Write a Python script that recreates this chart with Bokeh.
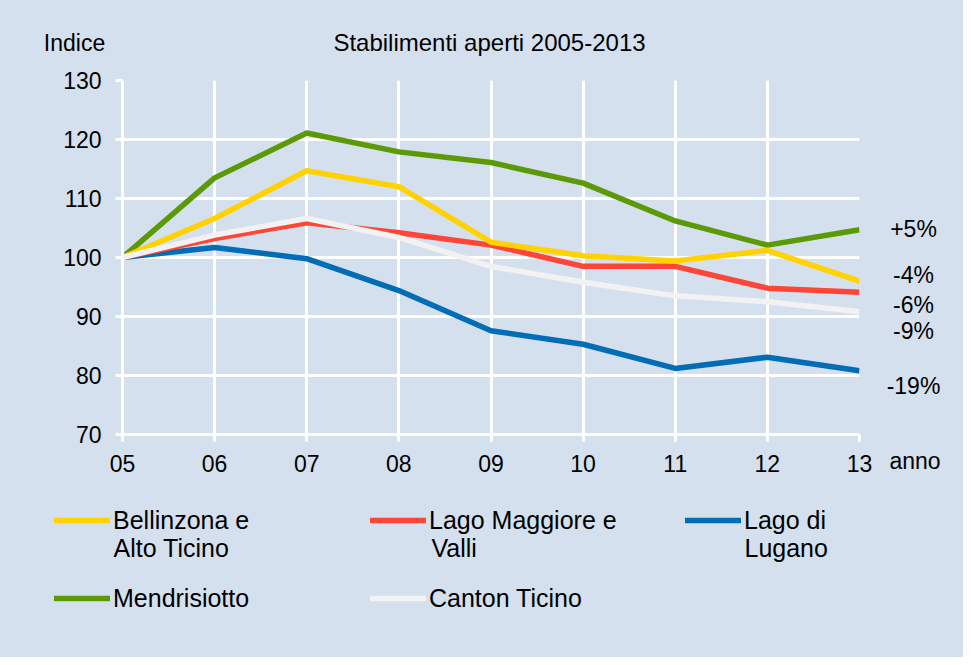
from bokeh.plotting import figure
from bokeh.models import Legend, LegendItem, Label, FixedTicker, Range1d
from bokeh.layouts import column, row
from bokeh.embed import file_html
from bokeh.resources import INLINE

years = [2005, 2006, 2007, 2008, 2009, 2010, 2011, 2012, 2013]
year_labels = ["05", "06", "07", "08", "09", "10", "11", "12", "13"]
y_ticks = [70, 80, 90, 100, 110, 120, 130]

bellinzona = [100, 106.6, 114.7, 112.0, 102.6, 100.3, 99.4, 101.2, 96.0]
lago_maggiore = [100, 103.2, 105.9, 104.2, 102.1, 98.5, 98.5, 94.8, 94.1]
lugano = [100, 101.7, 99.8, 94.4, 87.6, 85.3, 81.2, 83.1, 80.8]
mendrisiotto = [100, 113.5, 121.1, 117.9, 116.1, 112.6, 106.2, 102.1, 104.7]
canton = [100, 103.8, 106.6, 103.4, 98.5, 95.8, 93.5, 92.5, 90.8]

pct_labels = ["+5%", "-4%", "-6%", "-9%", "-19%"]
pct_label_y = [104.8, 97.1, 91.9, 87.6, 78.2]

BG = "#D5E0EE"
FONT = "Liberation Sans"
W_TOTAL = 963
T_H = 66
M_H = 428
L_H = 657 - T_H - M_H
M_LEFT, M_TOP, M_BOTTOM, M_RIGHT = 122, 14, 60, 16
M_W = 875
R_W = W_TOTAL - M_W
FRAME_H = M_H - M_TOP - M_BOTTOM
Y0, Y1 = 70, 130

COLORS = {
    "yellow": "#FFD200", "red": "#FF4536", "blue": "#006DB6",
    "green": "#5B9A06", "white": "#F2F2F2",
}
SERIES = {
    "yellow": bellinzona, "red": lago_maggiore, "blue": lugano,
    "green": mendrisiotto, "white": canton,
}


def blank(w, h, yr=(0, 1)):
    f = figure(width=w, height=h, output_backend="svg", toolbar_location=None,
               x_axis_type=None, y_axis_type=None, x_range=Range1d(0, 1),
               y_range=Range1d(*yr), background_fill_color=BG, border_fill_color=BG,
               min_border=0)
    f.outline_line_color = None
    f.grid.visible = False
    f.frame_align = False
    f.styles = {"background-color": BG}
    return f


# ---- top strip: title and y label
top = blank(W_TOTAL, T_H)
top.add_layout(Label(x=74, y=24, x_units="screen", y_units="screen", text="Indice",
                     text_align="center", text_baseline="middle", text_font=FONT,
                     text_font_size="23px", text_color="black"))
top.add_layout(Label(x=489, y=24, x_units="screen", y_units="screen",
                     text="Stabilimenti aperti 2005-2013", text_align="center",
                     text_baseline="middle", text_font=FONT, text_font_size="24px",
                     text_color="black"))

# ---- main chart
p = figure(width=M_W, height=M_H, output_backend="svg", toolbar_location=None,
           x_range=Range1d(2005, 2013), y_range=Range1d(Y0, Y1),
           background_fill_color=BG, border_fill_color=BG,
           min_border_left=M_LEFT, min_border_right=M_RIGHT, min_border_top=M_TOP,
           min_border_bottom=M_BOTTOM)
p.outline_line_color = None
p.frame_align = False
p.styles = {"background-color": BG}

for ax in (p.xaxis[0], p.yaxis[0]):
    ax.axis_line_color = "white"
    ax.axis_line_width = 3
    ax.major_tick_line_color = "white"
    ax.major_tick_line_width = 3
    ax.major_tick_out = 7
    ax.major_tick_in = 0
    ax.minor_tick_line_color = None
    ax.major_label_text_font = FONT
    ax.major_label_text_font_size = "23px"
    ax.major_label_text_color = "black"

p.xaxis.ticker = FixedTicker(ticks=years)
p.xaxis.major_label_overrides = {y: l for y, l in zip(years, year_labels)}
p.xaxis.major_label_standoff = 13
p.yaxis.ticker = FixedTicker(ticks=y_ticks)
p.yaxis.major_label_standoff = 14

for g in (p.xgrid[0], p.ygrid[0]):
    g.grid_line_color = "white"
    g.grid_line_width = 3
p.xgrid.ticker = FixedTicker(ticks=years)
p.ygrid.ticker = FixedTicker(ticks=y_ticks)

LW = 5.5
for key in ["green", "blue", "red", "yellow", "white"]:
    p.line(years, SERIES[key], line_color=COLORS[key], line_width=LW, line_join="round")

# ---- right strip: end-of-line percentages and x label (same vertical scale)
px_per_unit = FRAME_H / (Y1 - Y0)
r_y0 = Y0 - M_BOTTOM / px_per_unit
r_y1 = Y1 + M_TOP / px_per_unit
right = blank(R_W, M_H, yr=(r_y0, r_y1))
for txt, yy in zip(pct_labels, pct_label_y):
    right.add_layout(Label(x=38, y=yy, x_units="screen", y_units="data", text=txt,
                           text_align="center", text_baseline="middle", text_font=FONT,
                           text_font_size="23px", text_color="black"))
right.add_layout(Label(x=14, y=34, x_units="screen", y_units="screen", text="anno",
                       text_align="left", text_baseline="middle", text_font=FONT,
                       text_font_size="23px", text_color="black"))

# ---- legend strip (series drawn off-range so that only the legend samples show)
leg = blank(W_TOTAL, L_H)
legend_specs = [
    ("yellow", "Bellinzona e", 54, 122),
    ("red", "Lago Maggiore e", 370, 122),
    ("blue", "Lago di", 685, 122),
    ("green", "Mendrisiotto", 54, 44),
    ("white", "Canton Ticino", 370, 44),
]
for key, lab, lx, ly in legend_specs:
    rr = leg.line(years, SERIES[key], line_color=COLORS[key], line_width=LW,
                  line_cap="round")
    lg = Legend(items=[LegendItem(label=lab, renderers=[rr])], location=(lx, ly),
                padding=0, margin=0, spacing=0, glyph_width=56, glyph_height=30,
                label_height=30, label_standoff=3, border_line_color=None,
                background_fill_alpha=0, label_text_font=FONT,
                label_text_font_size="25px", label_text_color="black")
    leg.add_layout(lg, "center")

second_lines = [("Alto Ticino", 113), ("Valli", 431), ("Lugano", 744)]
for txt, lx in second_lines:
    leg.add_layout(Label(x=lx, y=110, x_units="screen", y_units="screen", text=txt,
                         text_font=FONT, text_font_size="25px", text_baseline="middle",
                         text_color="black"))

mid = row(p, right, spacing=0)
mid.styles = {"background-color": BG}
layout = column(top, mid, leg, spacing=0)
layout.styles = {"background-color": BG}
open("out.html", "w").write(file_html(layout, INLINE))
